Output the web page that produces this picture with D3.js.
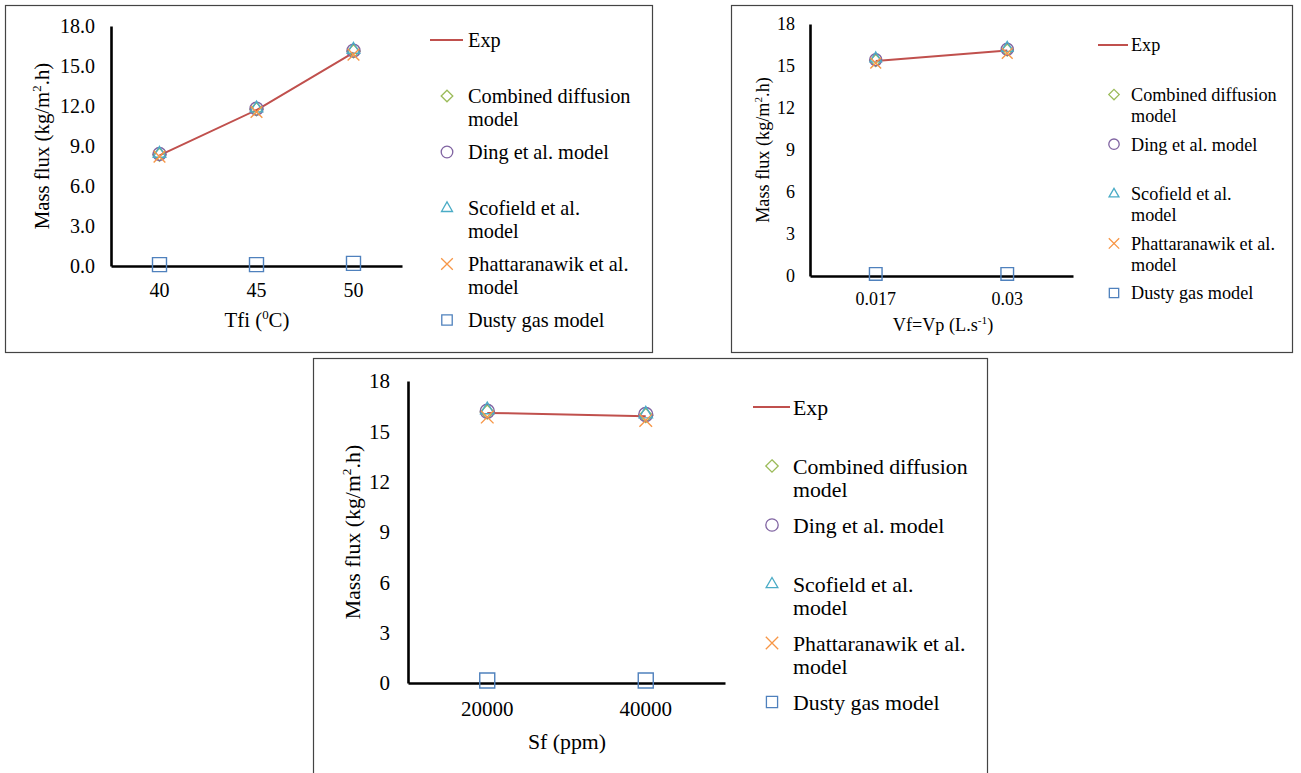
<!DOCTYPE html>
<html><head><meta charset="utf-8">
<script src="https://cdn.jsdelivr.net/npm/d3@7"></script>
<style>body{margin:0;background:#fff}svg{display:block}</style>
</head><body>
<svg id="c" width="1301" height="773"></svg>
<script>
// ---------- DATA ----------
const seriesNames = ["Exp","Combined diffusion model","Ding et al. model","Scofield et al. model","Phattaranawik et al. model","Dusty gas model"];
const legendLines = [["Exp"],["Combined diffusion","model"],["Ding et al. model"],["Scofield et al.","model"],["Phattaranawik et al.","model"],["Dusty gas model"]];
const yTicks = [0,3,6,9,12,15,18];

// Panel A: Tfi
const tfiCats = ["40","45","50"];
const tfiExp = [8.3, 11.7, 16.0];
const tfiCombined = [8.35, 11.75, 16.1];
const tfiDing = [8.4, 11.8, 16.15];
const tfiScofield = [8.45, 11.85, 16.25];
const tfiPhatt = [8.2, 11.55, 15.85];
const tfiDusty = [0.1, 0.1, 0.2];

// Panel B: Vf=Vp
const vfCats = ["0.017","0.03"];
const vfExp = [15.35, 16.1];
const vfCombined = [15.4, 16.15];
const vfDing = [15.45, 16.2];
const vfScofield = [15.55, 16.3];
const vfPhatt = [15.2, 15.9];
const vfDusty = [0.15, 0.15];

// Panel C: Sf
const sfCats = ["20000","40000"];
const sfExp = [16.1, 15.9];
const sfCombined = [16.15, 15.95];
const sfDing = [16.2, 16.0];
const sfScofield = [16.3, 16.05];
const sfPhatt = [15.85, 15.65];
const sfDusty = [0.15, 0.15];

// ---------- STYLE ----------
const colors = ["#C0504D","#9BBB59","#8064A2","#4BACC6","#F79646","#4F81BD"];
const shapes = [null,"diamond","circle","triangle","x","square"];
const FONT = "'Liberation Serif','Times New Roman',serif";

const svg = d3.select("#c");

function markerPath(shape, s){
  switch(shape){
    case "diamond": return `M0,${-s}L${s},0L0,${s}L${-s},0Z`;
    case "circle": return `M${s},0A${s},${s} 0 1,1 ${-s},0A${s},${s} 0 1,1 ${s},0Z`;
    case "triangle": return `M0,${-s*1.05}L${s*0.95},${s*0.6}L${-s*0.95},${s*0.6}Z`;
    case "x": return `M${-s},${-s}L${s},${s}M${s},${-s}L${-s},${s}`;
    case "square": return `M${-s},${-s}H${s}V${s}H${-s}Z`;
  }
}
function drawMarker(g, shape, cx, cy, s, color, sw){
  g.append("path").attr("d", markerPath(shape, s)).attr("transform", `translate(${cx},${cy})`)
    .attr("fill","none").attr("stroke", color).attr("stroke-width", sw);
}

function drawPanel(p){
  const g = svg.append("g");
  g.append("rect").attr("x",p.box[0]+0.5).attr("y",p.box[1]+0.5)
    .attr("width",p.box[2]-p.box[0]).attr("height",p.box[3]-p.box[1])
    .attr("fill","#fff").attr("stroke","#444").attr("stroke-width",1.2);

  const x = d3.scaleBand().domain(p.cats).range([p.x0,p.x1]);
  const y = d3.scaleLinear().domain([0,18]).range([p.y0,p.y1]);
  const cx = c => x(c) + x.bandwidth()/2;

  const ya = g.append("g").attr("transform",`translate(${p.x0},0)`)
    .call(d3.axisLeft(y).tickValues(yTicks).tickSize(0).tickPadding(p.ytp).tickFormat(p.yfmt));
  const xa = g.append("g").attr("transform",`translate(0,${p.y0})`)
    .call(d3.axisBottom(x).tickSize(0).tickPadding(p.xtp));
  [ya,xa].forEach(a=>{
    a.attr("font-family",FONT);
    a.select(".domain").attr("stroke","#000").attr("stroke-width",2.6);
    a.selectAll("text").attr("font-family",FONT).attr("font-size",p.fs).attr("fill","#000");
  });

  const yt = g.append("text").attr("font-family",FONT).attr("font-size",p.tfs).attr("fill","#000")
    .attr("text-anchor","middle").attr("transform",`translate(${p.ytx},${p.yty}) rotate(-90)`).attr("dy","0.35em");
  yt.append("tspan").text("Mass flux (kg/m");
  yt.append("tspan").text("2").attr("font-size",p.tfs*0.62).attr("dy",-p.tfs*0.38);
  yt.append("tspan").text(".h)").attr("dy",p.tfs*0.38);

  const xt = g.append("text").attr("font-family",FONT).attr("font-size",p.tfs).attr("fill","#000")
    .attr("text-anchor","middle").attr("x",p.xtx).attr("y",p.xty);
  p.xtitle.forEach(part=>{
    const t = xt.append("tspan").text(part[0]);
    if(part[1]==="sup") t.attr("font-size",p.tfs*0.62).attr("dy",-p.tfs*0.38);
    if(part[1]==="back") t.attr("dy",p.tfs*0.38);
  });

  const line = d3.line().x((d,i)=>cx(p.cats[i])).y(d=>y(d));
  g.append("path").datum(p.series[0]).attr("d",line).attr("fill","none")
    .attr("stroke",colors[0]).attr("stroke-width",2);

  for(let k=1;k<p.series.length;k++){
    p.series[k].forEach((v,i)=>{
      const s = shapes[k]==="square" ? p.sq : (shapes[k]==="x" ? p.ms*0.9 : p.ms);
      drawMarker(g, shapes[k], cx(p.cats[i]), y(v), s, colors[k], 1.4);
    });
  }

  legendLines.forEach((lines,k)=>{
    const ly = p.ly0 + k*p.lstep;
    if(k===0){
      g.append("line").attr("x1",p.lline[0]).attr("x2",p.lline[1]).attr("y1",ly).attr("y2",ly)
        .attr("stroke",colors[0]).attr("stroke-width",2);
    } else {
      drawMarker(g, shapes[k], p.lmx, ly, shapes[k]==="square"?p.lms*0.9:p.lms, colors[k], 1.3);
    }
    lines.forEach((t,j)=>{
      g.append("text").attr("x",p.ltx).attr("y",ly + j*p.llh).attr("dy","0.35em")
        .attr("font-family",FONT).attr("font-size",p.lfs).attr("fill","#000").text(t);
    });
  });
}

drawPanel({
  box:[5,5,652,352], cats:tfiCats,
  series:[tfiExp,tfiCombined,tfiDing,tfiScofield,tfiPhatt,tfiDusty],
  x0:111, x1:402, y0:266, y1:26, fs:20, tfs:20.8, ytp:16, xtp:17, yfmt:d3.format(".1f"),
  ytx:42, yty:146, xtx:257, xty:327,
  xtitle:[["Tfi ("],["0","sup"],["C)","back"]],
  ms:6.5, sq:7,
  ly0:40, lstep:56, llh:23, lmx:447, ltx:468, lline:[430,463], lfs:20.3, lms:5.8
});

drawPanel({
  box:[731,5,1292,352], cats:vfCats,
  series:[vfExp,vfCombined,vfDing,vfScofield,vfPhatt,vfDusty],
  x0:810, x1:1073, y0:276, y1:24, fs:18, tfs:18.2, ytp:15, xtp:16, yfmt:d3.format("d"),
  ytx:763, yty:150, xtx:943, xty:331,
  xtitle:[["Vf=Vp (L.s"],["-1","sup"],[")","back"]],
  ms:6, sq:6.3,
  ly0:45, lstep:49.6, llh:21, lmx:1114, ltx:1131, lline:[1098,1128], lfs:18.2, lms:5.2
});

drawPanel({
  box:[313,358,987,800], cats:sfCats,
  series:[sfExp,sfCombined,sfDing,sfScofield,sfPhatt,sfDusty],
  x0:408, x1:725, y0:683, y1:381, fs:21, tfs:21.8, ytp:18, xtp:18, yfmt:d3.format("d"),
  ytx:352, yty:532, xtx:567, xty:749,
  xtitle:[["Sf (ppm)"]],
  ms:7, sq:7.5,
  ly0:407, lstep:59, llh:23, lmx:772, ltx:793, lline:[753,790], lfs:21.8, lms:6.2
});
</script>
</body></html>
